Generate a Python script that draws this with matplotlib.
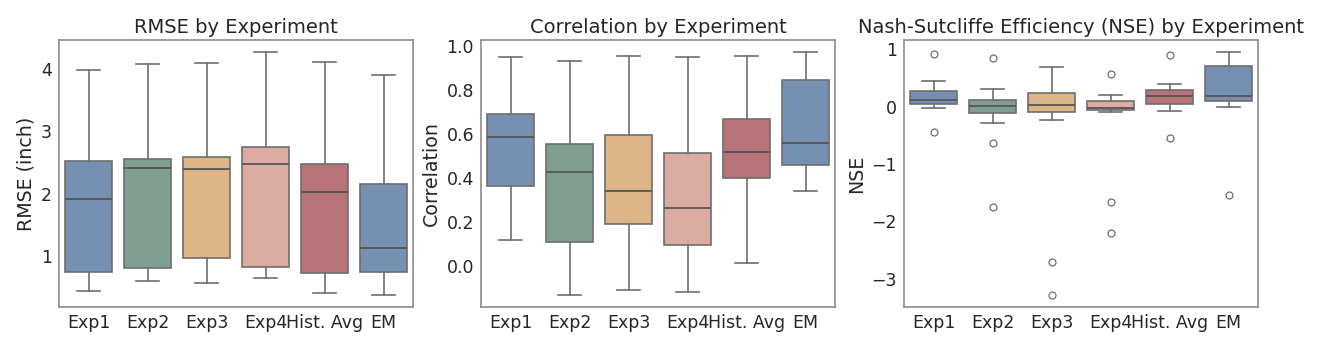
import matplotlib
matplotlib.use("Agg")
import matplotlib.pyplot as plt

categories = ["Exp1", "Exp2", "Exp3", "Exp4", "Hist. Avg", "EM"]
colors = ["#7590b0", "#7f9e8f", "#deb587", "#dcaba2", "#b87378", "#7590b0"]

# RMSE box stats: whislo, q1, med, q3, whishi
rmse_whislo = [0.43, 0.60, 0.56, 0.64, 0.40, 0.37]
rmse_q1 = [0.74, 0.80, 0.96, 0.82, 0.72, 0.75]
rmse_med = [1.91, 2.41, 2.39, 2.48, 2.03, 1.13]
rmse_q3 = [2.52, 2.55, 2.59, 2.75, 2.47, 2.16]
rmse_whishi = [3.99, 4.09, 4.10, 4.28, 4.12, 3.90]

# Correlation
corr_whislo = [0.119, -0.130, -0.109, -0.115, 0.015, 0.340]
corr_q1 = [0.363, 0.110, 0.192, 0.098, 0.400, 0.459]
corr_med = [0.588, 0.427, 0.344, 0.267, 0.518, 0.562]
corr_q3 = [0.693, 0.556, 0.597, 0.514, 0.668, 0.844]
corr_whishi = [0.949, 0.932, 0.955, 0.950, 0.955, 0.973]

# NSE
nse_whislo = [-0.023, -0.278, -0.238, -0.099, -0.070, -0.006]
nse_q1 = [0.040, -0.110, -0.087, -0.064, 0.052, 0.104]
nse_med = [0.116, 0.017, 0.023, -0.017, 0.180, 0.180]
nse_q3 = [0.267, 0.116, 0.243, 0.099, 0.290, 0.707]
nse_whishi = [0.452, 0.307, 0.684, 0.209, 0.388, 0.951]
nse_fliers = [[0.91, -0.446], [0.84, -0.632, -1.745], [-2.713, -3.281],
              [0.562, -1.658, -2.203], [0.893, -0.551], [-1.536]]


def make_stats(lo, q1, med, q3, hi, fl=None):
    out = []
    for i, c in enumerate(categories):
        out.append(dict(label=c, whislo=lo[i], q1=q1[i], med=med[i], q3=q3[i],
                        whishi=hi[i], fliers=(fl[i] if fl else [])))
    return out


panels = [
    ("RMSE by Experiment", "RMSE (inch)",
     make_stats(rmse_whislo, rmse_q1, rmse_med, rmse_q3, rmse_whishi),
     (0.18, 4.47), [1, 2, 3, 4], ["1", "2", "3", "4"]),
    ("Correlation by Experiment", "Correlation",
     make_stats(corr_whislo, corr_q1, corr_med, corr_q3, corr_whishi),
     (-0.184, 1.027), [0.0, 0.2, 0.4, 0.6, 0.8, 1.0],
     ["0.0", "0.2", "0.4", "0.6", "0.8", "1.0"]),
    ("Nash-Sutcliffe Efficiency (NSE) by Experiment", "NSE",
     make_stats(nse_whislo, nse_q1, nse_med, nse_q3, nse_whishi, nse_fliers),
     (-3.49, 1.16), [-3, -2, -1, 0, 1], ["\u22123", "\u22122", "\u22121", "0", "1"]),
]

fig = plt.figure(figsize=(13.17, 3.47), dpi=100)
lefts = [59, 481, 904]
rights = [413, 835, 1258]
W, H = 1317, 347
edge = "#6e6e6e"
for k, (title, ylabel, stats, ylim, yt, ytl) in enumerate(panels):
    ax = fig.add_axes([lefts[k] / W, 1 - 307 / H, (rights[k] - lefts[k]) / W, (307 - 40) / H])
    bp = ax.bxp(stats, positions=range(len(categories)), widths=0.8, patch_artist=True,
                showfliers=True,
                boxprops=dict(edgecolor=edge, linewidth=1.2),
                whiskerprops=dict(color=edge, linewidth=1.2),
                capprops=dict(color=edge, linewidth=1.2),
                medianprops=dict(color="#555555", linewidth=1.3),
                flierprops=dict(marker="o", markersize=5, markerfacecolor="none",
                                markeredgecolor=edge, markeredgewidth=0.9))
    for patch, c in zip(bp["boxes"], colors):
        patch.set_facecolor(c)
    for cap in bp["caps"]:
        x = cap.get_xdata()
        mid = (x[0] + x[1]) / 2
        cap.set_xdata([mid - 0.2, mid + 0.2])
    ax.set_xlim(-0.5, len(categories) - 0.5)
    ax.set_ylim(*ylim)
    ax.set_yticks(yt)
    ax.set_yticklabels(ytl)
    ax.set_xticks(range(len(categories)))
    ax.set_xticklabels(categories)
    ax.tick_params(axis="both", labelsize=12.5, length=0, pad=5, colors="#262626")
    ax.set_title(title, fontsize=14, color="#262626", pad=5)
    ax.set_ylabel(ylabel, fontsize=13.7, color="#262626", labelpad=4)
    for s in ax.spines.values():
        s.set_color("#8c8c8c")
        s.set_linewidth(1.2)

fig.savefig("out.png", dpi=100)
